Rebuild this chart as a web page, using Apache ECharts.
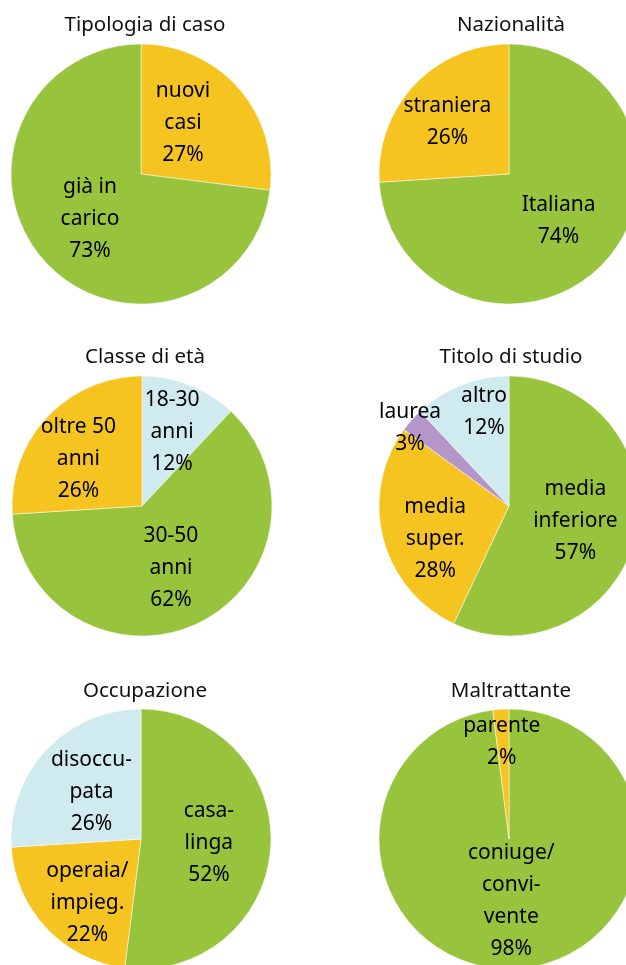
<!DOCTYPE html>
<html>
<head>
<meta charset="utf-8">
<script src="https://cdn.jsdelivr.net/npm/echarts@6/dist/echarts.min.js"></script>
<style>
  html, body { margin: 0; padding: 0; background: #fff; }
  #chart { width: 626px; height: 965px; }
</style>
</head>
<body>
<div id="chart"></div>
<script>
// titoli dei grafici
var titoli = ['Tipologia di caso', 'Nazionalità', 'Classe di età', 'Titolo di studio', 'Occupazione', 'Maltrattante'];

// categorie e percentuali (ordine in senso orario dalle ore 12)
var tipologiaNomi = ['nuovi\ncasi', 'già in\ncarico'];
var tipologiaVal = [27, 73];

var nazionalitaNomi = ['Italiana', 'straniera'];
var nazionalitaVal = [74, 26];

var etaNomi = ['18-30\nanni', '30-50\nanni', 'oltre 50\nanni'];
var etaVal = [12, 62, 26];

var studioNomi = ['media\ninferiore', 'media\nsuper.', 'laurea', 'altro'];
var studioVal = [57, 28, 3, 12];

var occupazioneNomi = ['casa-\nlinga', 'operaia/\nimpieg.', 'disoccu-\npata'];
var occupazioneVal = [52, 22, 26];

var maltrattanteNomi = ['coniuge/\nconvi-\nvente', 'parente'];
var maltrattanteVal = [98, 2];

var VERDE = '#97C43C', GIALLO = '#F5C421', AZZURRO = '#CFEBF0', VIOLA = '#B497C8';

var chartDom = document.getElementById('chart');
var myChart = echarts.init(chartDom);

function dati(nomi, valori, colori) {
  return nomi.map(function (n, i) {
    return { name: n, value: valori[i], itemStyle: { color: colori[i] } };
  });
}

// piccoli spostamenti delle etichette come nell'originale
function sposta(offsets) {
  return function (params) {
    var o = offsets[params.dataIndex];
    if (!o) return {};
    return { dx: o[0], dy: o[1] };
  };
}

function torta(center, data, offsets) {
  return {
    type: 'pie',
    center: center,
    radius: 130,
    startAngle: 90,
    clockwise: true,
    animation: false,
    silent: true,
    data: data,
    itemStyle: { borderColor: '#fff', borderWidth: 0.5 },
    label: {
      show: true,
      position: 'inside',
      formatter: '{b}\n{c}%',
      color: '#000',
      fontFamily: 'Noto Sans',
      fontSize: 21,
      lineHeight: 32
    },
    labelLine: { show: false },
    labelLayout: sposta(offsets || {})
  };
}

var colTitolo = [145, 511];
var rigaTitolo = [15, 347, 681];

var option = {
  backgroundColor: '#fff',
  title: titoli.map(function (t, i) {
    return {
      text: t,
      left: colTitolo[i % 2],
      top: rigaTitolo[Math.floor(i / 2)],
      textAlign: 'center',
      padding: 0,
      textStyle: { fontFamily: 'Noto Sans', fontSize: 20.5, fontWeight: 'normal', color: '#111' }
    };
  }),
  series: [
    torta([141, 174], dati(tipologiaNomi, tipologiaVal, [GIALLO, VERDE]), { 0: [-9, -6] }),
    torta([509, 174], dati(nazionalitaNomi, nazionalitaVal, [VERDE, GIALLO]), { 1: [-12, -5] }),
    torta([142, 506], dati(etaNomi, etaVal, [AZZURRO, VERDE, GIALLO]), { 0: [5, -11], 2: [-14, 0] }),
    torta([509, 506], dati(studioNomi, studioVal, [VERDE, GIALLO, VIOLA, AZZURRO]), { 1: [-8, 16], 2: [-48, -33], 3: [0, -31] }),
    torta([141, 839], dati(occupazioneNomi, occupazioneVal, [VERDE, GIALLO, AZZURRO]), { 1: [-4, 17] }),
    torta([509, 839], dati(maltrattanteNomi, maltrattanteVal, [VERDE, GIALLO]), { 0: [-2, -6], 1: [-3, -29] })
  ]
};

option && myChart.setOption(option);
</script>
</body>
</html>
